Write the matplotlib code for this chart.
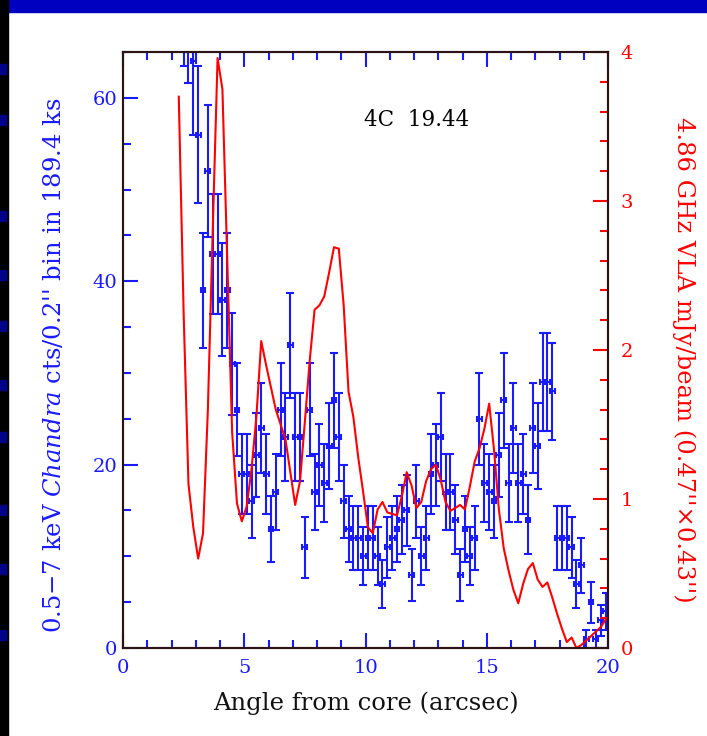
import numpy as np
import matplotlib
matplotlib.use("Agg")
import matplotlib.pyplot as plt
from matplotlib.patches import Rectangle

# ---------------- data ----------------
# X-ray counts per 0.2" bin (bin centres, arcsec)
xray_pos = [2.5, 2.7, 2.9, 3.1, 3.3, 3.5, 3.7, 3.9, 4.1, 4.3, 4.5, 4.7, 4.9,
            5.1, 5.3, 5.5, 5.7, 5.9, 6.1, 6.3, 6.5, 6.7, 6.9, 7.1, 7.3, 7.5,
            7.7, 7.9, 8.1, 8.3, 8.5, 8.7, 8.9, 9.1, 9.3, 9.5, 9.7, 9.9, 10.1,
            10.3, 10.5, 10.7, 10.9, 11.1, 11.3, 11.5, 11.7, 11.9, 12.1, 12.3,
            12.5, 12.7, 12.9, 13.1, 13.3, 13.5, 13.7, 13.9, 14.1, 14.3, 14.5,
            14.7, 14.9, 15.1, 15.3, 15.5, 15.7, 15.9, 16.1, 16.3, 16.5, 16.7,
            16.9, 17.1, 17.3, 17.5, 17.7, 17.9, 18.1, 18.3, 18.5, 18.7, 18.9,
            19.1, 19.3, 19.5, 19.7, 19.9]
xray_counts = [72, 70, 64, 56, 39, 52, 43, 43, 38, 39, 31, 26, 19,
               19, 16, 21, 24, 19, 13, 17, 26, 23, 33, 23, 23, 11,
               26, 17, 20, 18, 22, 27, 23, 16, 13, 12, 12, 10, 12,
               12, 10, 7, 11, 12, 13, 14, 15, 8, 16, 10,
               12, 19, 20, 23, 17, 17, 14, 8, 13, 10, 12,
               25, 18, 17, 16, 21, 27, 18, 24, 18, 19, 14,
               24, 22, 29, 29, 28, 12, 12, 12, 11, 7, 9,
               1, 5, 1, 3, 4]
bin_halfwidth = 0.1

# Radio profile (mJy/beam)
radio_pos = [2.3, 2.5, 2.7, 2.9, 3.1, 3.3, 3.5, 3.7, 3.9, 4.1, 4.3, 4.5, 4.7,
             4.9, 5.1, 5.3, 5.5, 5.7, 5.9, 6.1, 6.3, 6.5, 6.7, 6.9, 7.1, 7.3,
             7.5, 7.7, 7.9, 8.1, 8.3, 8.5, 8.7, 8.9, 9.1, 9.3, 9.5, 9.7, 9.9,
             10.1, 10.3, 10.5, 10.7, 10.9, 11.1, 11.3, 11.5, 11.7, 11.9, 12.1,
             12.3, 12.5, 12.7, 12.9, 13.1, 13.3, 13.5, 13.7, 13.9, 14.1, 14.3,
             14.5, 14.7, 14.9, 15.1, 15.3, 15.5, 15.7, 15.9, 16.1, 16.3, 16.5,
             16.7, 16.9, 17.1, 17.3, 17.5, 17.7, 17.9, 18.1, 18.3, 18.5, 18.7,
             18.9, 19.1, 19.3, 19.5, 19.7, 19.9]
radio_flux = [3.70, 2.25, 1.10, 0.81, 0.60, 0.77, 1.60, 2.80, 3.96, 3.75, 2.60, 1.45, 0.97,
              0.85, 0.95, 1.20, 1.55, 2.06, 1.90, 1.75, 1.60, 1.50, 1.40, 1.18, 0.96, 1.12,
              1.52, 1.93, 2.27, 2.30, 2.36, 2.52, 2.69, 2.68, 2.30, 1.72, 1.55, 1.28, 1.05,
              0.81, 0.77, 0.93, 0.98, 0.91, 0.90, 0.89, 1.02, 1.18, 1.09, 0.94,
              0.98, 1.12, 1.20, 1.23, 1.13, 0.98, 0.92, 0.94, 0.96, 0.93, 1.08,
              1.25, 1.34, 1.47, 1.64, 1.33, 0.93, 0.67, 0.52, 0.39, 0.30, 0.43,
              0.53, 0.57, 0.46, 0.41, 0.44, 0.34, 0.23, 0.13, 0.04, 0.07, 0.00,
              0.02, 0.05, 0.08, 0.11, 0.14, 0.19]

x_major = [0, 5, 10, 15, 20]
y_major = [0, 20, 40, 60]
r_major = [0, 1, 2, 3, 4]

# ---------------- style ----------------
BLUE = "#1a1aff"
RED = "#ff0000"
FRAME = "#2a1414"
plt.rcParams["font.family"] = ["DejaVu Serif"]
plt.rcParams["mathtext.fontset"] = "dejavuserif"

fig = plt.figure(figsize=(7.07, 7.36), dpi=100)

# slide decorations
fig.patches.append(Rectangle((8/707, 1-12/736), 1, 12/736, transform=fig.transFigure,
                             color="#0000c0", zorder=0))
fig.patches.append(Rectangle((0, 0), 8/707, 1, transform=fig.transFigure,
                             color="#000000", zorder=0))
for yy in [0.90, 0.83, 0.70, 0.62, 0.55, 0.47, 0.40, 0.30, 0.22, 0.13]:
    fig.patches.append(Rectangle((0, yy), 6/707, 10/736, transform=fig.transFigure,
                                 color="#00008a", zorder=1))

ax = fig.add_axes([123/707, 1-648/736, 485/707, 596/736])
counts = np.array(xray_counts, dtype=float)
err = np.sqrt(counts)

# vertical (Poisson) error bars
ax.errorbar(xray_pos, counts, yerr=err, fmt="none", ecolor=BLUE,
            elinewidth=1.5, capsize=3.0, capthick=1.5, clip_on=True)
# horizontal bin-width bars ("H")
ax.errorbar(xray_pos, counts, xerr=bin_halfwidth, fmt="none", ecolor=BLUE,
            elinewidth=1.5, capsize=2.0, capthick=1.5, clip_on=True)

ax.set_xlim(0, 20)
ax.set_ylim(0, 65)
ax.set_xticks(x_major)
ax.set_xticks(np.arange(0, 21, 1), minor=True)
ax.set_yticks(y_major)
ax.set_yticks(np.arange(0, 66, 5), minor=True)
ax.tick_params(axis="both", which="both", direction="in", colors=BLUE,
               width=1.5, top=True, right=False, labelsize=14)
ax.tick_params(axis="both", which="major", length=11)
ax.tick_params(axis="both", which="minor", length=6)
ax.tick_params(axis="x", which="major", pad=8)
ax.tick_params(axis="y", which="major", pad=4)
for s in ax.spines.values():
    s.set_color(FRAME)
    s.set_linewidth(1.5)

ax.set_xlabel("Angle from core (arcsec)", fontsize=17.5, color="#111111", labelpad=10)
ax.set_ylabel(r"0.5$-$7 keV $\it{Chandra}$ cts/0.2'' bin in 189.4 ks",
              fontsize=17.5, color=BLUE)
ax.yaxis.set_label_coords(-0.1175, 0.475)
ax.text(0.606, 0.886, "4C  19.44", transform=ax.transAxes, fontsize=15.5,
        color="black", ha="center", va="center")

ax2 = ax.twinx()
ax2.plot(radio_pos, radio_flux, color=RED, linewidth=1.5)
ax2.set_ylim(0, 4)
ax2.set_yticks(r_major)
ax2.set_yticks(np.arange(0, 4.01, 0.2), minor=True)
ax2.tick_params(axis="y", which="both", direction="in", colors=RED,
                width=1.5, labelsize=14)
ax2.tick_params(axis="y", which="major", length=11, pad=9)
ax2.tick_params(axis="y", which="minor", length=6)
for s in ax2.spines.values():
    s.set_color(FRAME)
    s.set_linewidth(1.5)
ax2.set_ylabel("4.86 GHz VLA mJy/beam (0.47''\u00d70.43'')", fontsize=17.5,
               color=RED, rotation=270, labelpad=42)
ax2.yaxis.label.set_va("center")
ax2.yaxis.set_label_coords(1.157, 0.483)

fig.savefig("out.png", dpi=100)
